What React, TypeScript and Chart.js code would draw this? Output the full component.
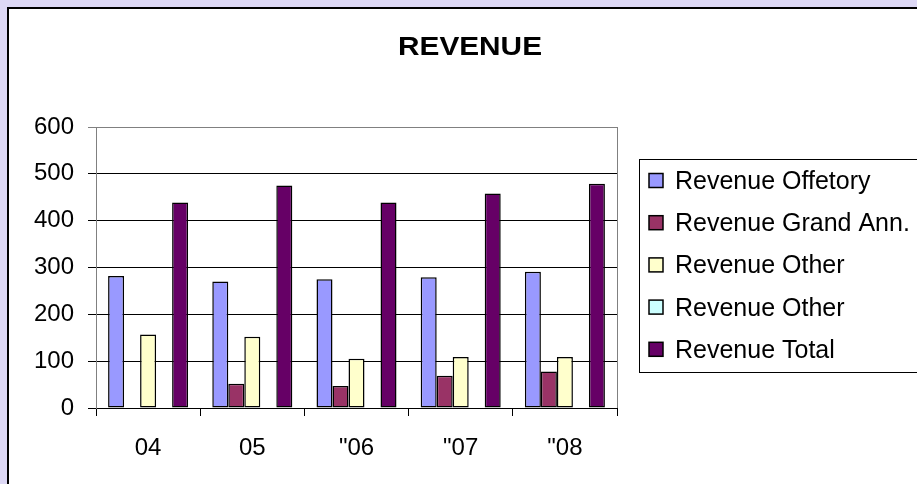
import React, { useEffect, useRef } from "react";
import { Chart, registerables } from "chart.js";

Chart.register(...registerables);

const categories = ["04", "05", "\"06", "\"07", "\"08"];
const revenueOffetory = [282, 270, 275, 279, 291];
const revenueGrandAnn = [null, 52, 47, 69, 78];
const revenueOther = [157, 152, 105, 109, 109];
const revenueOther2 = [null, null, null, null, null];
const revenueTotal = [439, 475, 439, 458, 479];
const yTicks = [0, 100, 200, 300, 400, 500, 600];

const seriesLabels = [
  "Revenue Offetory",
  "Revenue Grand Ann.",
  "Revenue Other",
  "Revenue Other",
  "Revenue Total",
];
const seriesColors = ["#9999FF", "#993366", "#FFFFCC", "#CCFFFF", "#660066"];
const FONT = "'Liberation Sans', Arial, sans-serif";

const panelPlugin = {
  id: "panel",
  beforeDraw(chart: any) {
    const { ctx, width, height } = chart;
    ctx.save();
    ctx.fillStyle = "#DDD8F5";
    ctx.fillRect(0, 0, width, height);
    ctx.fillStyle = "#FFFFFF";
    ctx.fillRect(8, 8, width, height);
    ctx.strokeStyle = "#000000";
    ctx.lineWidth = 2;
    ctx.beginPath();
    ctx.moveTo(8, height + 5);
    ctx.lineTo(8, 8);
    ctx.lineTo(width + 5, 8);
    ctx.stroke();
    ctx.restore();
  },
  afterDatasetsDraw(chart: any) {
    const { ctx, chartArea } = chart;
    ctx.save();
    ctx.strokeStyle = "#808080";
    ctx.lineWidth = 1;
    ctx.beginPath();
    const r = Math.round(chartArea.right) + 0.5;
    ctx.moveTo(r, chartArea.top);
    ctx.lineTo(r, chartArea.bottom);
    ctx.stroke();
    ctx.restore();
  },
  afterDraw(chart: any) {
    const { ctx, width } = chart;
    ctx.save();
    // title
    ctx.fillStyle = "#000";
    ctx.font = `bold 25px ${FONT}`;
    const title = "REVENUE";
    const w = ctx.measureText(title).width;
    ctx.translate(470, 55);
    ctx.scale(144 / w, 1);
    ctx.textAlign = "center";
    ctx.textBaseline = "alphabetic";
    ctx.fillText(title, 0, 0);
    ctx.restore();

    // legend
    ctx.save();
    ctx.strokeStyle = "#000";
    ctx.lineWidth = 1;
    ctx.strokeRect(639.5, 159.5, width, 213);
    ctx.font = `25px ${FONT}`;
    ctx.textAlign = "left";
    ctx.textBaseline = "alphabetic";
    chart.data.datasets.forEach((ds: any, i: number) => {
      const cy = 180.5 + i * 42.2;
      ctx.fillStyle = ds.backgroundColor;
      ctx.fillRect(649, cy - 7, 14, 14);
      ctx.lineWidth = 1.5;
      ctx.strokeStyle = "#000";
      ctx.strokeRect(649, cy - 7, 14, 14);
      ctx.fillStyle = "#000";
      ctx.fillText(ds.label, 675, cy + 8.5);
    });
    ctx.restore();
  },
};

export default function App() {
  const ref = useRef<HTMLCanvasElement>(null);
  useEffect(() => {
    if (!ref.current) return;
    const seriesData = [revenueOffetory, revenueGrandAnn, revenueOther, revenueOther2, revenueTotal];
    const chart = new Chart(ref.current, {
      type: "bar",
      data: {
        labels: categories,
        datasets: seriesData.map((d, i) => ({
          label: seriesLabels[i],
          data: d as any,
          backgroundColor: seriesColors[i],
          borderColor: "#000000",
          borderWidth: 1.5,
          borderSkipped: false,
          categoryPercentage: 0.768,
          barPercentage: 1,
        })),
      },
      options: {
        animation: false,
        responsive: false,
        devicePixelRatio: 1,
        layout: { padding: { left: 0, right: 300, top: 127, bottom: 0 } },
        plugins: {
          legend: { display: false },
          title: { display: false },
          tooltip: { enabled: false },
        },
        scales: {
          x: {
            offset: true,
            afterFit: (s: any) => {
              s.height = 76;
            },
            grid: {
              display: true,
              drawOnChartArea: false,
              drawTicks: true,
              tickLength: 8,
              color: "#000000",
              offset: true,
            },
            border: { display: true, color: "#000000", width: 1 },
            ticks: {
              color: "#000000",
              font: { family: FONT, size: 24 },
              padding: 18,
              maxRotation: 0,
              autoSkip: false,
            },
          },
          y: {
            min: 0,
            max: 600,
            afterFit: (s: any) => {
              s.width = 96;
            },
            afterBuildTicks: (s: any) => {
              s.ticks = yTicks.map((v) => ({ value: v }));
            },
            grid: {
              color: (c: any) => (c.tick && c.tick.value === 600 ? "#808080" : "#000000"),
              tickLength: 8,
              drawTicks: true,
            },
            border: { display: true, color: "#808080", width: 1 },
            ticks: {
              color: "#000000",
              font: { family: FONT, size: 24 },
              padding: 14,
            },
          },
        },
      },
      plugins: [panelPlugin],
    });
    return () => chart.destroy();
  }, []);
  return (
    <div style={{ position: "fixed", left: 0, top: 0, width: 917, height: 484 }}>
      <canvas ref={ref} width={917} height={484} style={{ width: 917, height: 484 }} />
    </div>
  );
}
